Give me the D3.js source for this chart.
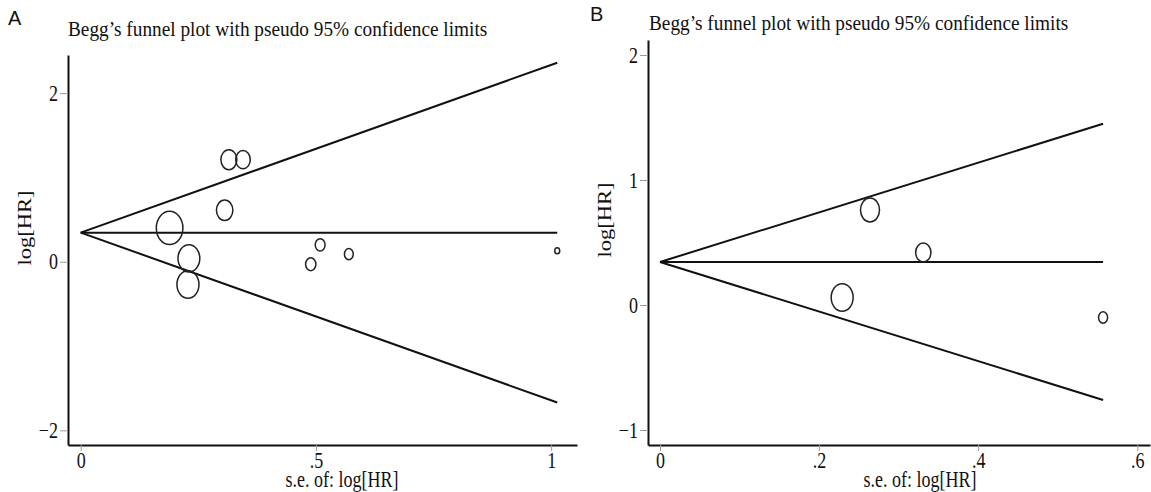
<!DOCTYPE html>
<html>
<head>
<meta charset="utf-8">
<script src="https://cdn.jsdelivr.net/npm/d3@7"></script>
<style>
	html, body { margin: 0; padding: 0; background: #fff; }
	svg { display: block; }
	.axis .domain { stroke: #111; stroke-width: 2px; }
	.axis .tick line { stroke: #9a9a9a; stroke-width: 1px; }
	.axis .tick text { font-family: "Liberation Serif", "Times New Roman", serif; font-size: 18px; fill: #111; }
	.funnel { stroke: #111; stroke-width: 2px; fill: none; }
	.study { stroke: #222; stroke-width: 1.5px; fill: none; }
	.title, .label { font-family: "Liberation Serif", "Times New Roman", serif; fill: #111; }
	.panel { font-family: "Liberation Sans", Arial, sans-serif; font-size: 20px; fill: #111; }
</style>
</head>
<body>
<script>
(function() {

"use strict";

// panel A: standard error and log hazard ratio of each study
const SE_A    = [0.189, 0.230, 0.228, 0.306, 0.315, 0.345, 0.509, 0.489, 0.570, 1.013];
const LOGHR_A = [0.40,  0.04, -0.27,  0.61,  1.21,  1.21,  0.20, -0.03,  0.09,  0.13];

// panel B
const SE_B    = [0.264, 0.331, 0.229, 0.557];
const LOGHR_B = [0.76,  0.42,  0.06, -0.10];

// pooled estimate and pseudo 95% limits (at se = 0 and se = max)
const POOLED_A = 0.345;
const LIMIT_SE_A = [0, 1.013];
const LOWER_A = [0.345, -1.67];
const UPPER_A = [0.345, 2.36];

const POOLED_B = 0.344;
const LIMIT_SE_B = [0, 0.557];
const LOWER_B = [0.344, -0.76];
const UPPER_B = [0.344, 1.45];

const X_TICKS_A = [0, 0.5, 1];
const X_LABELS_A = ["0", ".5", "1"];
const Y_TICKS_A = [-2, 0, 2];

const X_TICKS_B = [0, 0.2, 0.4, 0.6];
const X_LABELS_B = ["0", ".2", ".4", ".6"];
const Y_TICKS_B = [-1, 0, 1, 2];

const TITLE = "Begg\u2019s funnel plot with pseudo 95% confidence limits";

// the source picture is stretched vertically
const STRETCH = 1.25;

const svg = d3.select("body").append("svg")
	.attr("width", 1151)
	.attr("height", 492);

// marker size follows the study weight 1/se^2
const radius = d3.scaleSqrt().domain([0, 28]).range([0, 13.3]);

function drawFunnel(options) {
	let scale = {
		x: d3.scaleLinear().domain(options.domain.x).range([options.left, options.right]),
		y: d3.scaleLinear().domain(options.domain.y).range([options.bottom, options.top]),
	};

	let g = svg.append("g");

	g.append("text")
		.attr("class", "panel")
		.attr("x", options.letter.x)
		.attr("y", options.letter.y)
		.text(options.letter.text);

	g.append("text")
		.attr("class", "title")
		.attr("font-size", 19.3)
		.attr("transform", `translate(${options.title.x}, ${options.title.y}) scale(1, 1.1)`)
		.text(TITLE);

	g.append("g")
		.attr("class", "axis y")
		.attr("transform", `translate(${options.left}, 0)`)
		.call(d3.axisLeft(scale.y)
			.tickValues(options.yTicks)
			.tickFormat(d3.format("d"))
			.tickSize(8)
			.tickSizeOuter(0)
			.tickPadding(2))
		.selectAll(".tick text")
			.attr("transform", `scale(1, ${STRETCH})`);

	g.append("g")
		.attr("class", "axis x")
		.attr("transform", `translate(0, ${options.bottom})`)
		.call(d3.axisBottom(scale.x)
			.tickValues(options.xTicks)
			.tickFormat((d, i) => options.xLabels[i])
			.tickSize(6)
			.tickSizeOuter(0)
			.tickPadding(0))
		.selectAll(".tick text")
			.attr("transform", `scale(1, ${STRETCH})`);

	g.append("text")
		.attr("class", "label")
		.attr("font-size", 18)
		.attr("text-anchor", "middle")
		.attr("transform", `translate(${options.ylabel.x}, ${options.ylabel.y}) rotate(-90) scale(${STRETCH}, 1)`)
		.attr("dy", "0.35em")
		.text("log[HR]");

	g.append("text")
		.attr("class", "label")
		.attr("font-size", 18)
		.attr("text-anchor", "middle")
		.attr("transform", `translate(${options.xlabel.x}, ${options.xlabel.y}) scale(1, ${STRETCH})`)
		.text("s.e. of: log[HR]");

	let line = d3.line()
		.x(d => scale.x(d[0]))
		.y(d => scale.y(d[1]));

	let limitSe = options.limitSe;
	g.append("path")
		.attr("class", "funnel")
		.attr("d", line(limitSe.map((s, i) => [s, options.upper[i]])));
	g.append("path")
		.attr("class", "funnel")
		.attr("d", line(limitSe.map((s, i) => [s, options.lower[i]])));
	g.append("path")
		.attr("class", "funnel")
		.attr("d", line(limitSe.map(s => [s, options.pooled])));

	g.append("g")
		.selectAll("ellipse")
		.data(options.se.map((s, i) => ({se: s, value: options.value[i]})))
		.join("ellipse")
			.attr("class", "study")
			.attr("cx", d => scale.x(d.se))
			.attr("cy", d => scale.y(d.value))
			.attr("rx", d => radius(1 / (d.se * d.se)))
			.attr("ry", d => STRETCH * radius(1 / (d.se * d.se)));
}

drawFunnel({
	left: 68, right: 577, top: 55, bottom: 445,
	domain: {x: [-0.027, 1.055], y: [-2.174, 2.452]},
	letter: {text: "A", x: 8, y: 25},
	title: {x: 68, y: 36},
	ylabel: {x: 25, y: 228},
	xlabel: {x: 342, y: 487},
	xTicks: X_TICKS_A, xLabels: X_LABELS_A, yTicks: Y_TICKS_A,
	se: SE_A, value: LOGHR_A,
	pooled: POOLED_A, limitSe: LIMIT_SE_A, lower: LOWER_A, upper: UPPER_A,
});

drawFunnel({
	left: 648, right: 1150, top: 40, bottom: 445,
	domain: {x: [-0.0151, 0.616], y: [-1.12, 2.12]},
	letter: {text: "B", x: 590, y: 21},
	title: {x: 649, y: 30},
	ylabel: {x: 605, y: 220},
	xlabel: {x: 920, y: 487},
	xTicks: X_TICKS_B, xLabels: X_LABELS_B, yTicks: Y_TICKS_B,
	se: SE_B, value: LOGHR_B,
	pooled: POOLED_B, limitSe: LIMIT_SE_B, lower: LOWER_B, upper: UPPER_B,
});

})();
</script>
</body>
</html>
